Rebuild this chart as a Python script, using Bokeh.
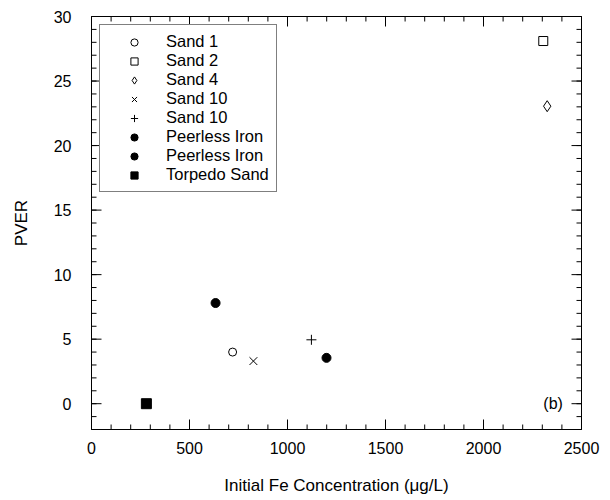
import math
from bokeh.plotting import figure
from bokeh.models import LinearAxis, Legend, LegendItem, Range1d, FixedTicker, Label
from bokeh.embed import file_html
from bokeh.resources import INLINE

# ---- data ----
sand1_x = [720]
sand1_y = [4.0]
sand2_x = [2305]
sand2_y = [28.1]
sand4_x = [2325]
sand4_y = [23.05]
sand10x_x = [826]
sand10x_y = [3.3]
sand10p_x = [1122]
sand10p_y = [4.95]
peer1_x = [633]
peer1_y = [7.8]
peer2_x = [1199]
peer2_y = [3.55]
torp_x = [280]
torp_y = [0.0]

x_ticks = [0, 500, 1000, 1500, 2000, 2500]
y_ticks = [0, 5, 10, 15, 20, 25, 30]
x_minor = list(range(0, 2501, 100))
y_minor = list(range(-2, 31, 1))

X_MIN, X_MAX = 0, 2500
Y_MIN, Y_MAX = -2, 30

FONT = "Liberation Sans"

p = figure(width=600, height=500, output_backend="svg", toolbar_location=None,
           x_range=Range1d(X_MIN, X_MAX), y_range=Range1d(Y_MIN, Y_MAX),
           x_axis_label="Initial Fe Concentration (\u03bcg/L)", y_axis_label="PVER",
           min_border_left=91, min_border_top=16, min_border_right=19, min_border_bottom=71)
p.xgrid.visible = False
p.ygrid.visible = False
p.outline_line_color = "black"
p.outline_line_width = 1
p.background_fill_color = "white"
p.border_fill_color = "white"

def style_axis(ax, ticks, labels=True):
    ax.ticker = FixedTicker(ticks=ticks, minor_ticks=[])
    ax.axis_line_color = "black"
    ax.major_tick_in = 0
    ax.major_tick_out = 0
    ax.minor_tick_in = 0
    ax.minor_tick_out = 0
    ax.major_tick_line_color = None
    ax.minor_tick_line_color = None
    ax.major_label_text_font = FONT
    ax.major_label_text_color = "black"
    ax.axis_label_text_font = FONT
    ax.axis_label_text_font_style = "normal"
    ax.axis_label_text_color = "black"
    ax.axis_label_text_font_size = "17px"
    ax.major_label_text_font_size = "16px"
    if not labels:
        ax.major_label_text_color = None
        ax.major_label_text_font_size = "1px"
        ax.major_label_standoff = 0

style_axis(p.xaxis[0], x_ticks)
style_axis(p.yaxis[0], y_ticks)
p.xaxis[0].major_label_standoff = 12
p.xaxis[0].axis_label_standoff = 19
p.yaxis[0].major_label_standoff = 20
p.yaxis[0].axis_label_standoff = 20

ax_r = LinearAxis()
style_axis(ax_r, y_ticks, labels=False)
p.add_layout(ax_r, "right")
ax_t = LinearAxis()
style_axis(ax_t, x_ticks, labels=False)
p.add_layout(ax_t, "above")

# inward-pointing ticks on all four sides (positions from the tick lists, length in screen px)
def ticks_inside(xs, ys, angle, length):
    p.ray(x=xs, y=ys, length=length, length_units="screen", angle=angle,
          line_color="black", line_width=1)

ticks_inside(x_minor, [Y_MIN] * len(x_minor), math.pi / 2, 5)
ticks_inside(x_ticks, [Y_MIN] * len(x_ticks), math.pi / 2, 10)
ticks_inside(x_minor, [Y_MAX] * len(x_minor), -math.pi / 2, 5)
ticks_inside(x_ticks, [Y_MAX] * len(x_ticks), -math.pi / 2, 10)
ticks_inside([X_MIN] * len(y_minor), y_minor, 0, 5)
ticks_inside([X_MIN] * len(y_ticks), y_ticks, 0, 10)
ticks_inside([X_MAX] * len(y_minor), y_minor, math.pi, 5)
ticks_inside([X_MAX] * len(y_ticks), y_ticks, math.pi, 10)

r1 = p.scatter(sand1_x, sand1_y, marker="circle", size=8, fill_color="white", line_color="black", line_width=1)
r2 = p.scatter(sand2_x, sand2_y, marker="square", size=9, fill_color="white", line_color="black", line_width=1)
r3 = p.scatter(sand4_x, sand4_y, marker="diamond", size=11, fill_color="white", line_color="black", line_width=1)
r4 = p.scatter(sand10x_x, sand10x_y, marker="x", size=11, line_color="black", line_width=1)
r5 = p.scatter(sand10p_x, sand10p_y, marker="cross", size=10, line_color="black", line_width=1)
r6 = p.scatter(peer1_x, peer1_y, marker="circle", size=9, fill_color="black", line_color="black")
r7 = p.scatter(peer2_x, peer2_y, marker="circle", size=9, fill_color="black", line_color="black")
r8 = p.scatter(torp_x, torp_y, marker="square", size=10, fill_color="black", line_color="black")

legend = Legend(items=[
    LegendItem(label="Sand 1", renderers=[r1]),
    LegendItem(label="Sand 2", renderers=[r2]),
    LegendItem(label="Sand 4", renderers=[r3]),
    LegendItem(label="Sand 10", renderers=[r4]),
    LegendItem(label="Sand 10", renderers=[r5]),
    LegendItem(label="Peerless Iron", renderers=[r6]),
    LegendItem(label="Peerless Iron", renderers=[r7]),
    LegendItem(label="Torpedo Sand", renderers=[r8]),
], location="top_left")
legend.margin = 8
legend.padding = 7
legend.spacing = 0
legend.label_height = 18
legend.glyph_height = 18
legend.glyph_width = 54
legend.label_standoff = 5
legend.label_text_font = FONT
legend.label_text_font_size = "16.5px"
legend.label_text_color = "black"
legend.border_line_color = "black"
legend.border_line_width = 1
legend.background_fill_color = "white"
legend.background_fill_alpha = 1
p.add_layout(legend, "center")

p.add_layout(Label(x=2405, y=0, text="(b)", text_align="right", text_baseline="middle",
                   text_font=FONT, text_font_size="16px", text_color="black"))

open("out.html", "w").write(file_html(p, INLINE))
